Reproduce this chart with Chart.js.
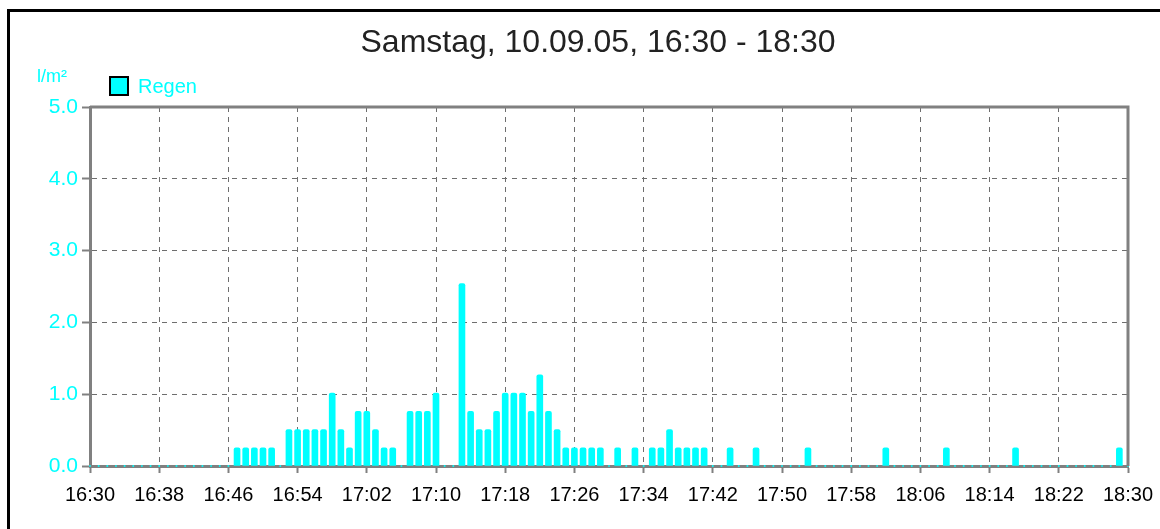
<!DOCTYPE html>
<html>
<head>
<meta charset="utf-8">
<script src="https://cdn.jsdelivr.net/npm/chart.js@4/dist/chart.umd.min.js"></script>
<style>
  html, body { margin: 0; padding: 0; background: #fff; }
  #wrap { position: relative; width: 1160px; height: 529px; overflow: hidden; }
  #frame { position: absolute; left: 7px; top: 9px; width: 1200px; height: 600px; border-top: 3px solid #000; border-left: 3px solid #000; }
  canvas { position: absolute; left: 0; top: 0; }
</style>
</head>
<body>
<div id="wrap">
  <div id="frame"></div>
  <canvas id="chart-rain" width="1160" height="529"></canvas>
</div>
<script>
const TITLE = 'Samstag, 10.09.05, 16:30 - 18:30';
const UNIT = 'l/m²';
const SERIES_NAME = 'Regen';

// x tick labels, one every 8 minutes
const tickLabels = ['16:30', '16:38', '16:46', '16:54', '17:02', '17:10', '17:18', '17:26',
  '17:34', '17:42', '17:50', '17:58', '18:06', '18:14', '18:22', '18:30'];
const yTicks = [0, 1, 2, 3, 4, 5];

// Regen je Minute ab 16:30 (Index = Minuten nach 16:30)
const rain = [
  0, 0, 0, 0, 0, 0, 0, 0, 0, 0,                                   // 16:30
  0, 0, 0, 0, 0, 0, 0, 0.254, 0.254, 0.254,                       // 16:40
  0.254, 0.254, 0, 0.508, 0.508, 0.508, 0.508, 0.508, 1.016, 0.508, // 16:50
  0.254, 0.762, 0.762, 0.508, 0.254, 0.254, 0, 0.762, 0.762, 0.762, // 17:00
  1.016, 0, 0, 2.54, 0.762, 0.508, 0.508, 0.762, 1.016, 1.016,    // 17:10
  1.016, 0.762, 1.27, 0.762, 0.508, 0.254, 0.254, 0.254, 0.254, 0.254, // 17:20
  0, 0.254, 0, 0.254, 0, 0.254, 0.254, 0.508, 0.254, 0.254,       // 17:30
  0.254, 0.254, 0, 0, 0.254, 0, 0, 0.254, 0, 0,                   // 17:40
  0, 0, 0, 0.254, 0, 0, 0, 0, 0, 0,                               // 17:50
  0, 0, 0.254, 0, 0, 0, 0, 0, 0, 0.254,                           // 18:00
  0, 0, 0, 0, 0, 0, 0, 0.254, 0, 0,                               // 18:10
  0, 0, 0, 0, 0, 0, 0, 0, 0, 0.254,                               // 18:20
  0,                                                              // 18:30
];

const CYAN = '#00ffff';
const GRAY = '#808080';
const GRID = '#6e6e6e';

const barData  = rain.map((v, i) => ({ x: i, y: v })).filter(p => p.y > 0);
const zeroData = rain.map((v, i) => ({ x: i, y: v })).filter(p => p.y === 0);

const frame = {
  id: 'frame-and-labels',
  afterDraw(chart) {
    const { ctx, chartArea } = chart;
    ctx.save();
    // top and right border of the plot
    ctx.strokeStyle = GRAY;
    ctx.lineWidth = 3;
    ctx.beginPath();
    ctx.moveTo(chartArea.left, chartArea.top);
    ctx.lineTo(chartArea.right, chartArea.top);
    ctx.lineTo(chartArea.right, chartArea.bottom);
    ctx.stroke();

    // title
    ctx.fillStyle = '#222';
    ctx.font = '32px "Liberation Sans", Arial, sans-serif';
    ctx.textAlign = 'center';
    ctx.textBaseline = 'alphabetic';
    ctx.fillText(TITLE, 598, 52);

    // unit
    ctx.fillStyle = CYAN;
    ctx.font = '18px "Liberation Sans", Arial, sans-serif';
    ctx.textAlign = 'left';
    ctx.fillText(UNIT, 37, 82);

    // legend
    ctx.fillStyle = CYAN;
    ctx.fillRect(110, 77, 18, 18);
    ctx.strokeStyle = '#000';
    ctx.lineWidth = 2;
    ctx.strokeRect(110, 77, 18, 18);
    ctx.fillStyle = CYAN;
    ctx.font = '20px "Liberation Sans", Arial, sans-serif';
    ctx.fillText(SERIES_NAME, 138, 93);
    ctx.restore();
  },
};

new Chart(document.getElementById('chart-rain').getContext('2d'), {
  type: 'bar',
  data: {
    datasets: [
      {
        label: SERIES_NAME,
        data: barData,
        backgroundColor: CYAN,
        borderWidth: 0,
        barThickness: 6,
        borderRadius: { topLeft: 2, topRight: 2, bottomLeft: 0, bottomRight: 0 },
        borderSkipped: 'bottom',
      },
      {
        type: 'line',
        label: 'zero',
        data: zeroData,
        showLine: false,
        pointStyle: 'rect',
        pointRadius: 1.2,
        pointBackgroundColor: CYAN,
        pointBorderWidth: 0,
        clip: false,
      },
    ],
  },
  options: {
    responsive: false,
    animation: false,
    layout: { padding: { top: 107, right: 32, bottom: 0, left: 0 } },
    plugins: {
      legend: { display: false },
      title: { display: false },
      tooltip: { enabled: false },
    },
    scales: {
      x: {
        type: 'linear',
        min: 0,
        max: 120,
        offset: false,
        afterFit: s => { s.height = 63; s.paddingLeft = 0; s.paddingRight = 0; },
        border: { color: GRAY, width: 3, dash: [5, 5] },
        grid: {
          offset: false,
          color: GRID,
          lineWidth: 1,
          tickColor: GRAY,
          tickWidth: 2,
          tickLength: 7,
          tickBorderDash: [],
        },
        ticks: {
          stepSize: 8,
          autoSkip: false,
          maxRotation: 0,
          padding: 10,
          color: '#000',
          font: { family: '"Liberation Sans", Arial, sans-serif', size: 20 },
          callback: v => tickLabels[v / 8],
        },
      },
      y: {
        min: 0,
        max: 5,
        afterFit: s => { s.width = 90; s.paddingTop = 0; s.paddingBottom = 0; },
        afterBuildTicks: s => { s.ticks = yTicks.map(v => ({ value: v })); },
        border: { color: GRAY, width: 3, dash: [5, 5] },
        grid: {
          color: GRID,
          lineWidth: 1,
          tickColor: GRAY,
          tickWidth: 2,
          tickLength: 8,
          tickBorderDash: [],
        },
        ticks: {
          padding: 4,
          color: CYAN,
          font: { family: '"Liberation Sans", Arial, sans-serif', size: 21 },
          callback: v => v.toFixed(1),
        },
      },
    },
  },
  plugins: [frame],
});
</script>
</body>
</html>
